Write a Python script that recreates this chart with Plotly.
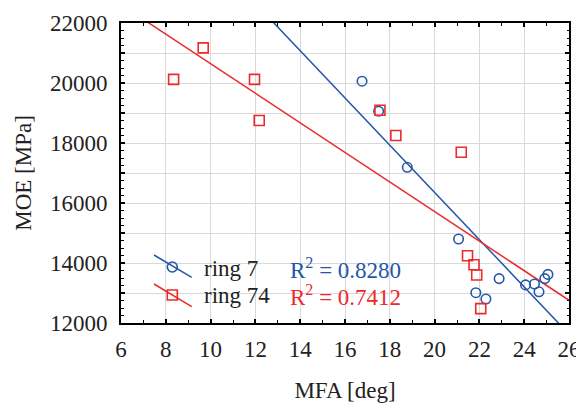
import numpy as np
import plotly.graph_objects as go

# ---------------- data ----------------
ring7_mfa = [16.76, 17.50, 18.78, 21.07, 21.84, 22.29, 22.88, 24.06, 24.46, 24.66, 24.92, 25.06]
ring7_moe = [20060, 19060, 17190, 14800, 13010, 12800, 13480, 13270, 13300, 13040, 13480, 13620]

ring74_mfa = [8.35, 9.67, 11.96, 12.17, 17.56, 18.27, 21.19, 21.47, 21.76, 21.88, 22.06]
ring74_moe = [20120, 21170, 20120, 18750, 19090, 18250, 17690, 14240, 13940, 13600, 12480]

series_names = ["ring 7", "ring 74"]
r2_labels = ["R<sup>2</sup> = 0.8280", "R<sup>2</sup> = 0.7412"]

x_ticks = [6, 8, 10, 12, 14, 16, 18, 20, 22, 24, 26]
y_ticks = [12000, 14000, 16000, 18000, 20000, 22000]
y_tick_text = ["12000", "14000", "16000", "18000", "20000", "22000"]

x_title = "MFA [deg]"
y_title = "MOE [MPa]"

# ---------------- styling ----------------
BLUE = "#2457a6"
RED = "#ec2a2c"
FONT = "Liberation Serif, Times New Roman, serif"
GRID = "#d9d9d9"
TXT = "#222222"

xmin, xmax = x_ticks[0], x_ticks[-1]
ymin, ymax = y_ticks[0], y_ticks[-1]

fig = go.Figure()

line_x = np.array([xmin, xmax], dtype=float)
for xs, ys, color in [(ring7_mfa, ring7_moe, BLUE), (ring74_mfa, ring74_moe, RED)]:
    slope, intercept = np.polyfit(xs, ys, 1)
    fig.add_trace(go.Scatter(x=line_x, y=slope * line_x + intercept, mode="lines",
                             line=dict(color=color, width=1.5), showlegend=False,
                             hoverinfo="skip"))

fig.add_trace(go.Scatter(x=ring7_mfa, y=ring7_moe, mode="markers", name=series_names[0],
                         marker=dict(symbol="circle-open", size=9.5, color=BLUE,
                                     line=dict(width=1.6, color=BLUE)),
                         showlegend=False, cliponaxis=False))
fig.add_trace(go.Scatter(x=ring74_mfa, y=ring74_moe, mode="markers", name=series_names[1],
                         marker=dict(symbol="square-open", size=10, color=RED,
                                     line=dict(width=1.6, color=RED)),
                         showlegend=False, cliponaxis=False))

# invisible trace that carries the fine (250 MPa) tick axis
fig.add_trace(go.Scatter(x=[None], y=[None], yaxis="y2", showlegend=False, hoverinfo="skip"))

# ---------------- custom legend (diagonal line through marker) ----------------
shapes = []
annotations = []
legend_rows = [(0.2267, 0.1523, 0.1867, "circle", BLUE, 0.183),
               (0.1300, 0.0543, 0.0933, "rect", RED, 0.092)]
for i, (ya, yb, yc, kind, color, ty) in enumerate(legend_rows):
    shapes.append(dict(type="line", xref="paper", yref="paper", x0=0.0737, x1=0.1578,
                       y0=ya, y1=yb, line=dict(color=color, width=1.5)))
    shapes.append(dict(type=kind, xref="paper", yref="paper", xsizemode="pixel",
                       ysizemode="pixel", xanchor=0.1145, yanchor=yc,
                       x0=-5, x1=5, y0=-5, y1=5, line=dict(color=color, width=1.6)))
    annotations.append(dict(text=series_names[i], xref="paper", yref="paper", x=0.1815, y=ty,
                            xanchor="left", yanchor="middle", showarrow=False,
                            font=dict(family=FONT, size=23, color=TXT)))
    annotations.append(dict(text=r2_labels[i], xref="paper", yref="paper", x=0.372, y=ty,
                            xanchor="left", yanchor="middle", showarrow=False,
                            font=dict(family=FONT, size=23, color=color)))

axis_common = dict(showline=True, linecolor="black", linewidth=2, mirror="ticks",
                   ticks="inside", tickcolor="black", tickwidth=1.5, automargin=False,
                   showgrid=True, gridcolor=GRID, gridwidth=1.2, zeroline=False,
                   tickfont=dict(family=FONT, size=23, color=TXT))

fig.update_xaxes(range=[xmin, xmax], tickvals=x_ticks, ticklen=4,
                 minor=dict(dtick=1, ticks="inside", ticklen=3, tickcolor="black",
                            tickwidth=1.2, showgrid=False),
                 title=dict(text=x_title, font=dict(family=FONT, size=23, color=TXT),
                            standoff=26),
                 ticklabelstandoff=4, **axis_common)
fig.update_layout(yaxis=dict(range=[ymin, ymax], tickvals=y_ticks, ticktext=y_tick_text,
                             ticklen=4,
                             minor=dict(dtick=1000, ticks="inside", ticklen=4,
                                        tickcolor="black", tickwidth=1.5, showgrid=True,
                                        gridcolor=GRID, gridwidth=1.2),
                             title=dict(text=y_title, font=dict(family=FONT, size=23, color=TXT),
                                        standoff=12),
                             ticklabelstandoff=7, **axis_common),
                  yaxis2=dict(range=[ymin, ymax], overlaying="y", side="left",
                              tickmode="linear", tick0=ymin, dtick=250,
                              ticks="inside", ticklen=2.5, tickwidth=1.2, tickcolor="black",
                              showticklabels=False, showgrid=False, showline=False,
                              zeroline=False, mirror="ticks", automargin=False))

# the page adds an ~8px body margin, so the figure is 8px smaller and shifted
fig.update_layout(width=576, height=395, margin=dict(l=113, r=15, t=15, b=80),
                  plot_bgcolor="white", paper_bgcolor="white",
                  shapes=shapes, annotations=annotations, showlegend=False)

fig.write_html("out.html")
